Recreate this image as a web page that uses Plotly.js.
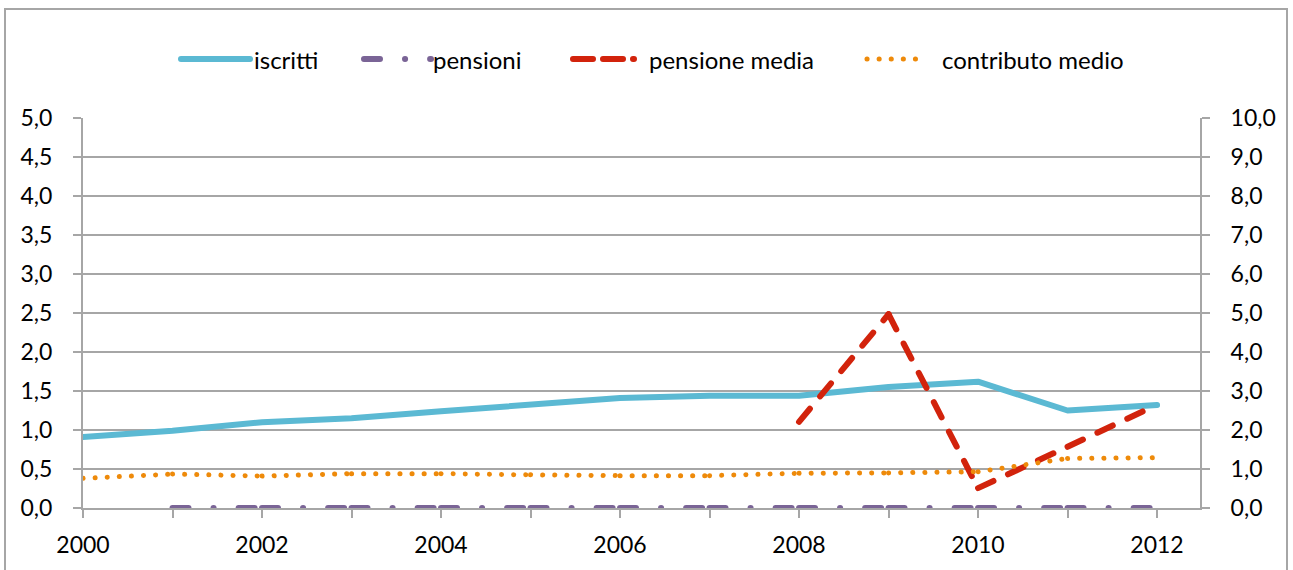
<!DOCTYPE html>
<html>
<head>
<meta charset="utf-8">
<script src="https://cdn.plot.ly/plotly-3.0.1.min.js"></script>
<style>
  html, body { margin: 0; padding: 0; background: #fff; }
  #wrap { position: relative; width: 1293px; height: 570px; }
  #chart { width: 1293px; height: 570px; }
  #frame { position: absolute; left: 4px; top: 8px; width: 1284px; height: 570px;
           border: 2px solid #a6a6a6; pointer-events: none; box-sizing: border-box; }
  .scatterlayer .js-line { stroke-linecap: round; stroke-linejoin: round; }
  .shapelayer path { stroke-linecap: round; }
</style>
</head>
<body>
<div id="wrap">
  <div id="chart"></div>
  <div id="frame"></div>
</div>
<script>
// ---- data ----
const years = [2000, 2001, 2002, 2003, 2004, 2005, 2006, 2007, 2008, 2009, 2010, 2011, 2012];
const iscritti = [0.91, 0.99, 1.10, 1.15, 1.24, 1.32, 1.41, 1.44, 1.44, 1.55, 1.62, 1.25, 1.32];
const pensioni = [null, 0, 0, 0, 0, 0, 0, 0, 0, 0, 0, 0, 0];
const pensioneMedia = [null, null, null, null, null, null, null, null, 2.21, 4.97, 0.51, 1.57, 2.65];
const contributoMedio = [0.76, 0.87, 0.82, 0.88, 0.88, 0.85, 0.83, 0.83, 0.89, 0.90, 0.93, 1.27, 1.29];
const xTickVals = years;
const xTickText = ['2000', '', '2002', '', '2004', '', '2006', '', '2008', '', '2010', '', '2012'];
const seriesNames = ['iscritti', 'pensioni', 'pensione media', 'contributo medio'];
const colors = ['#5bb9d3', '#7a6496', '#d2230c', '#ee8a0a'];

// split a series into separate segments (dash pattern restarts at each point, like Excel)
function segments(xs, ys) {
  const ox = [], oy = [];
  for (let i = 0; i < xs.length - 1; i++) {
    if (ys[i] == null || ys[i + 1] == null) continue;
    ox.push(xs[i], xs[i + 1], null);
    oy.push(ys[i], ys[i + 1], null);
  }
  return { x: ox, y: oy };
}

const dashPens = '16px,25px,0.1px,25px';
const dashMedia = '17px,16px';
const dashContr = '0.1px,12px';

const sP = segments(years, pensioni);
const sM = segments(years, pensioneMedia);
const sC = segments(years, contributoMedio);

const traces = [
  { x: years, y: iscritti, name: seriesNames[0], type: 'scatter', mode: 'lines',
    line: { color: colors[0], width: 6 }, yaxis: 'y' },
  { x: sP.x, y: sP.y, name: seriesNames[1], type: 'scatter', mode: 'lines', connectgaps: false,
    line: { color: colors[1], width: 6, dash: dashPens }, yaxis: 'y' },
  { x: sM.x, y: sM.y, name: seriesNames[2], type: 'scatter', mode: 'lines', connectgaps: false,
    line: { color: colors[2], width: 6, dash: dashMedia }, yaxis: 'y2' },
  { x: sC.x, y: sC.y, name: seriesNames[3], type: 'scatter', mode: 'lines', connectgaps: false,
    line: { color: colors[3], width: 5, dash: dashContr }, yaxis: 'y2' }
];

// custom legend (line samples + text), positioned in paper coordinates
const plotL = 83, plotW = 1117, plotB = 508, plotH = 390;
const px = v => (v - plotL) / plotW;
const py = v => (plotB - v) / plotH;
const legY = py(59);
const legendItems = [
  { x0: 181, x1: 250, tx: 253, dash: 'solid', w: 6 },
  { x0: 364, x1: 431, tx: 432, dash: dashPens, w: 6 },
  { x0: 573, x1: 634, tx: 648, dash: '20px,10px', w: 6 },
  { x0: 867, x1: 927, tx: 941, dash: dashContr, w: 5 }
];
const shapes = legendItems.map((it, i) => ({
  type: 'line', xref: 'paper', yref: 'paper', x0: px(it.x0), x1: px(it.x1), y0: legY, y1: legY,
  line: { color: colors[i], width: it.w, dash: it.dash }
}));
const annotations = legendItems.map((it, i) => ({
  xref: 'paper', yref: 'paper', x: px(it.tx), y: legY, xanchor: 'left', yanchor: 'middle',
  text: seriesNames[i], showarrow: false, font: { family: 'Lato, sans-serif', size: 24, color: '#000' },
  borderpad: 0
}));

const axisFont = { family: 'Lato, sans-serif', size: 23, color: '#000' };
const gray = '#a6a6a6';

const layout = {
  width: 1293, height: 570,
  margin: { l: 83, r: 93, t: 118, b: 62, pad: 0 },
  paper_bgcolor: '#fff', plot_bgcolor: '#fff',
  separators: ',.',
  showlegend: false,
  font: axisFont,
  xaxis: {
    type: 'linear', range: [2000, 2012.48], tickmode: 'array', tickvals: xTickVals, ticktext: xTickText,
    showgrid: false, zeroline: false, showline: true, linecolor: gray, linewidth: 2,
    ticks: 'outside', ticklen: 8, tickwidth: 2, tickcolor: gray, tickfont: axisFont,
    ticklabelstandoff: 7, fixedrange: true
  },
  yaxis: {
    range: [0, 5], dtick: 0.5, tick0: 0, tickformat: '.1f',
    showgrid: true, gridcolor: gray, gridwidth: 2, zeroline: false,
    showline: true, linecolor: gray, linewidth: 2,
    ticks: 'outside', ticklen: 8, tickwidth: 2, tickcolor: gray, tickfont: axisFont,
    ticklabelstandoff: 16, fixedrange: true
  },
  yaxis2: {
    range: [0, 10], dtick: 1, tick0: 0, tickformat: '.1f', overlaying: 'y', side: 'right',
    showgrid: false, zeroline: false, showline: true, linecolor: gray, linewidth: 2,
    ticks: 'outside', ticklen: 8, tickwidth: 2, tickcolor: gray, tickfont: axisFont,
    ticklabelstandoff: 16, fixedrange: true
  },
  shapes: shapes,
  annotations: annotations
};

Plotly.newPlot('chart', traces, layout, { displayModeBar: false, staticPlot: true });
</script>
</body>
</html>
